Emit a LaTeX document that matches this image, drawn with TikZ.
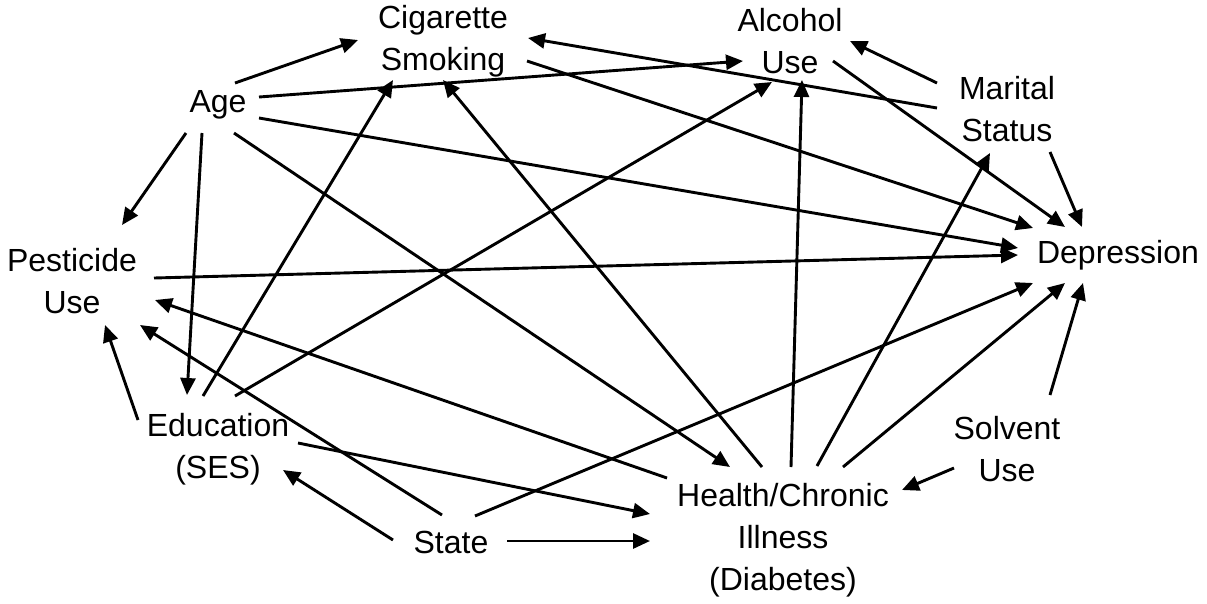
\documentclass[tikz,border=0pt]{standalone}
\usepackage{fontspec}
\setmainfont{Liberation Sans}
\usepackage{tikz}
\usetikzlibrary{arrows.meta}

\begin{document}
\begin{tikzpicture}[
		x=1pt, y=-1pt,
		var/.style={align=center, inner sep=0pt},
		arr/.style={-{Triangle[length=17pt,width=15pt]}, line width=2.9pt},
		every node/.style = {font=\fontsize{32}{42}\selectfont}
		]
		\useasboundingbox (0,0) rectangle (1207,603);
		% variables
		\node[var] (age)    at (218,105)  {Age};
		\node[var] (cig)    at (443,41)   {Cigarette\\Smoking};
		\node[var] (alc)    at (790,41)   {Alcohol\\Use};
		\node[var] (mar)    at (1007,109) {Marital\\Status};
		\node[var] (dep)    at (1118,255) {Depression};
		\node[var] (pest)   at (72,281)   {Pesticide\\Use};
		\node[var] (edu)    at (218,449)  {Education\\(SES)};
		\node[var] (state)  at (451,542)  {State};
		\node[var] (health) at (783,540)  {Health/Chronic\\Illness\\(Diabetes)};
		\node[var] (solv)   at (1007,449) {Solvent\\Use};
		% from Age
		\draw[arr] ([shift={(17,-22)}]age.center) -- ([shift={(-85,-1)}]cig.center);
		\draw[arr] ([shift={(41,-8)}]age.center) -- ([shift={(-47,20)}]alc.center);
		\draw[arr] ([shift={(41,13)}]age.center) -- ([shift={(-100,-7)}]dep.center);
		\draw[arr] ([shift={(-32,28)}]age.center) -- ([shift={(50,-56)}]pest.center);
		\draw[arr] ([shift={(-16,28)}]age.center) -- ([shift={(-31,-54)}]edu.center);
		\draw[arr] ([shift={(16,28)}]age.center) -- ([shift={(-53,-73)}]health.center);
		% from Marital Status
		\draw[arr] ([shift={(-70,-1)}]mar.center) -- ([shift={(85,-3)}]cig.center);
		\draw[arr] ([shift={(-70,-26)}]mar.center) -- ([shift={(60,0)}]alc.center);
		\draw[arr] ([shift={(43,43)}]mar.center) -- ([shift={(-36,-28)}]dep.center);
		% to Depression
		\draw[arr] ([shift={(84,20)}]cig.center) -- ([shift={(-85,-27)}]dep.center);
		\draw[arr] ([shift={(43,20)}]alc.center) -- ([shift={(-53,-28)}]dep.center);
		\draw[arr] ([shift={(82,-3)}]pest.center) -- ([shift={(-100,0)}]dep.center);
		% from Education
		\draw[arr] ([shift={(-80,-29)}]edu.center) -- ([shift={(33,44)}]pest.center);
		\draw[arr] ([shift={(-15,-53)}]edu.center) -- ([shift={(-50,39)}]cig.center);
		\draw[arr] ([shift={(17,-53)}]edu.center) -- ([shift={(-18,41)}]alc.center);
		\draw[arr] ([shift={(80,-6)}]edu.center) -- ([shift={(-133,-26)}]health.center);
		% from State
		\draw[arr] ([shift={(-58,-2)}]state.center) -- ([shift={(65,21)}]edu.center);
		\draw[arr] ([shift={(-9,-27)}]state.center) -- ([shift={(68,44)}]pest.center);
		\draw[arr] ([shift={(24,-26)}]state.center) -- ([shift={(-85,28)}]dep.center);
		\draw[arr] ([shift={(56,-1)}]state.center) -- ([shift={(-133,1)}]health.center);
		% from Health/Chronic Illness
		\draw[arr] ([shift={(-116,-62)}]health.center) -- ([shift={(83,19)}]pest.center);
		\draw[arr] ([shift={(-21,-73)}]health.center) -- ([shift={(0,39)}]cig.center);
		\draw[arr] ([shift={(8,-73)}]health.center) -- ([shift={(12,39)}]alc.center);
		\draw[arr] ([shift={(34,-74)}]health.center) -- ([shift={(-17,44)}]mar.center);
		\draw[arr] ([shift={(60,-73)}]health.center) -- ([shift={(-53,28)}]dep.center);
		% from Solvent Use
		\draw[arr] ([shift={(-53,19)}]solv.center) -- ([shift={(119,-50)}]health.center);
		\draw[arr] ([shift={(43,-54)}]solv.center) -- ([shift={(-35,28)}]dep.center);
	\end{tikzpicture}
\end{document}
